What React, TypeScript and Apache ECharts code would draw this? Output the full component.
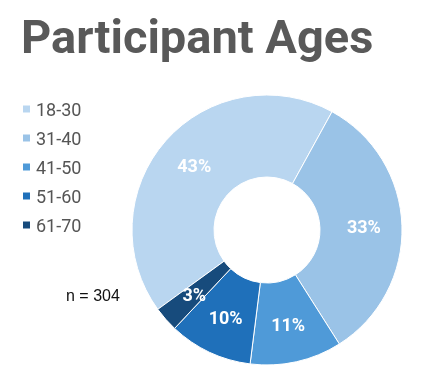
import React, { useEffect, useRef } from "react";
import * as echarts from "echarts";

const categories = ["18-30", "31-40", "41-50", "51-60", "61-70"];
const percents = [43, 33, 11, 10, 3];
const colors = ["#b9d6f0", "#9ac3e7", "#4f9ad8", "#1f70ba", "#174b7c"];
const titleText = "Participant Ages";
const noteText = "n = 304";

export default function App() {
  const ref = useRef<HTMLDivElement>(null);
  useEffect(() => {
    const chart = echarts.init(ref.current!, null, { renderer: "svg" });
    chart.setOption({
      animation: false,
      title: {
        text: titleText,
        left: 16,
        top: 8,
        textStyle: {
          fontFamily: "Roboto",
          fontWeight: "bold",
          fontSize: 47,
          color: "#595959",
        },
      },
      legend: {
        orient: "vertical",
        left: 16,
        top: 95,
        itemWidth: 9,
        itemHeight: 9,
        itemGap: 11,
        icon: "rect",
        data: categories,
        textStyle: {
          fontFamily: "Roboto",
          fontSize: 18,
          lineHeight: 18,
          color: "#555555",
        },
      },
      graphic: [
        {
          type: "text",
          left: 66,
          top: 287,
          style: {
            text: noteText,
            font: "16px 'Liberation Sans'",
            fill: "#111111",
          },
        },
      ],
      series: [
        {
          type: "pie",
          center: [267, 230],
          radius: [53, 135],
          startAngle: 216,
          clockwise: true,
          avoidLabelOverlap: false,
          itemStyle: { borderColor: "#ffffff", borderWidth: 1 },
          label: {
            show: true,
            position: "inside",
            formatter: "{c}%",
            color: "#ffffff",
            fontFamily: "Roboto",
            fontWeight: "bold",
            fontSize: 18,
          },
          labelLine: { show: false },
          emphasis: { disabled: true },
          data: categories.map((c, i) => ({
            name: c,
            value: percents[i],
            itemStyle: { color: colors[i] },
          })),
        },
      ],
    });
    return () => chart.dispose();
  }, []);
  return (
    <div
      ref={ref}
      style={{ position: "fixed", left: 0, top: 0, width: 441, height: 387 }}
    />
  );
}
